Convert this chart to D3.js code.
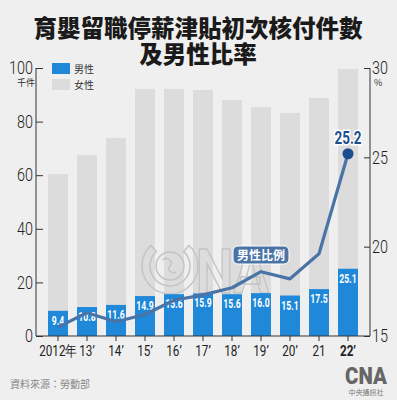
<!DOCTYPE html>
<html>
<head>
<meta charset="utf-8">
<script src="https://cdn.jsdelivr.net/npm/d3@7"></script>
<style>
  body { margin: 0; background: #efefef; }
  svg { display: block; }
  .num { font-family: Roboto, "Liberation Sans", sans-serif; }
  .cjk { font-family: "Noto Sans CJK TC", "Noto Sans", sans-serif; }
</style>
</head>
<body>
<svg id="chart" width="397" height="400"></svg>
<script>
// data (thousand cases, %)
const years = ["2012年", "13’", "14’", "15’", "16’", "17’", "18’", "19’", "20’", "21", "22’"];
const male = [9.4, 10.8, 11.6, 14.9, 15.6, 15.9, 15.6, 16.0, 15.1, 17.5, 25.1];
const female = [51.0, 56.7, 62.3, 77.3, 76.6, 75.9, 72.4, 69.4, 68.1, 71.3, 74.5];
const maleRatio = [15.5, 16.3, 15.8, 16.2, 17.0, 17.3, 17.7, 18.6, 18.2, 19.6, 25.2];
const leftTicks = [0, 20, 40, 60, 80, 100];
const rightTicks = [15, 20, 25, 30];

const blue = "#1f88d9", grey = "#dcdcdc", lineCol = "#4a74a6", dark = "#333";

// squeeze text horizontally (condensed look)
function condense(sel, k) {
  sel.each(function () {
    const t = d3.select(this);
    const x0 = +(t.attr("x") || 0);
    t.attr("x", x0 / k).attr("transform", `scale(${k},1)`);
  });
}

const svg = d3.select("#chart");
svg.append("rect").attr("width", 397).attr("height", 400).attr("fill", "#efefef");

// title
svg.append("text").attr("class", "cjk")
  .attr("x", 198).attr("y", 37).attr("text-anchor", "middle")
  .style("font-size", "23.5px").style("font-weight", 900).attr("fill", "#1a1a1a")
  .text("育嬰留職停薪津貼初次核付件數");
svg.append("text").attr("class", "cjk")
  .attr("x", 198).attr("y", 63).attr("text-anchor", "middle")
  .style("font-size", "23.5px").style("font-weight", 900).attr("fill", "#1a1a1a")
  .text("及男性比率");

const x = d3.scaleBand().domain(years).range([43.5, 362.5]).paddingInner(0.31).paddingOuter(0.155);
const y = d3.scaleLinear().domain([0, 100]).range([336, 68]);
const yr = d3.scaleLinear().domain([15, 30]).range([336, 68]);

// bars: total (grey) behind, male (blue) in front
const rows = years.map((d, i) => ({ year: d, male: male[i], female: female[i], ratio: maleRatio[i] }));
svg.append("g").selectAll("rect").data(rows).join("rect")
  .attr("x", d => x(d.year)).attr("width", x.bandwidth())
  .attr("y", d => y(d.male + d.female)).attr("height", d => y(0) - y(d.male + d.female))
  .attr("fill", grey);

// watermark
const wm = svg.append("g").attr("fill", "none").attr("stroke", "#c4c4c4").attr("stroke-width", 1.5);
wm.append("path").attr("transform", "translate(170,266)")
  .attr("d", d3.arc()({ innerRadius: 20, outerRadius: 28, startAngle: 0.75, endAngle: 2 * Math.PI - 0.75 }));
wm.append("circle").attr("cx", 170).attr("cy", 266).attr("r", 14);
wm.append("path").attr("transform", "translate(170,266)")
  .attr("d", "M-8,-6 C-2,-10 4,-4 0,0 C-4,4 2,8 6,6");
const wmText = wm.append("text").attr("x", 196).attr("y", 293).attr("class", "num")
  .style("font-size", "62px").style("font-weight", 700).text("NA");
condense(wmText, 0.85);

svg.append("g").selectAll("rect").data(rows).join("rect")
  .attr("x", d => x(d.year)).attr("width", x.bandwidth())
  .attr("y", d => y(d.male)).attr("height", d => y(0) - y(d.male))
  .attr("fill", blue);

const barLabels = svg.append("g").selectAll("text").data(rows).join("text")
  .attr("class", "num")
  .attr("x", d => x(d.year) + x.bandwidth() / 2).attr("y", d => y(d.male) + 14)
  .attr("text-anchor", "middle").attr("fill", "#fff")
  .style("font-size", "12px").style("font-weight", 700)
  .text(d => d.male.toFixed(1));
condense(barLabels, 0.72);

// ratio line
const line = d3.line().x(d => x(d.year) + x.bandwidth() / 2).y(d => yr(d.ratio));
svg.append("path").datum(rows).attr("d", line)
  .attr("fill", "none").attr("stroke", lineCol).attr("stroke-width", 3.2).attr("stroke-linejoin", "round");

const last = rows[rows.length - 1];
svg.append("circle").attr("cx", x(last.year) + x.bandwidth() / 2).attr("cy", yr(last.ratio))
  .attr("r", 5.5).attr("fill", "#1b4e8e");
const lastLabel = svg.append("text").attr("class", "num")
  .attr("x", x(last.year) + x.bandwidth() / 2).attr("y", yr(last.ratio) - 10)
  .attr("text-anchor", "middle").attr("fill", "#1b4e8e")
  .attr("stroke", "#fff").attr("stroke-width", 3).attr("paint-order", "stroke")
  .style("font-size", "18px").style("font-weight", 700)
  .text(last.ratio.toFixed(1));
condense(lastLabel, 0.75);

// "男性比例" tag
svg.append("rect").attr("x", 233).attr("y", 246).attr("width", 56).attr("height", 18)
  .attr("rx", 5).attr("fill", lineCol).attr("stroke", "#fff").attr("stroke-width", 1);
svg.append("text").attr("class", "cjk").attr("x", 261).attr("y", 259.5).attr("text-anchor", "middle")
  .attr("fill", "#fff").style("font-size", "12px").style("font-weight", 700).text("男性比例");

// axes
const axL = svg.append("g").attr("transform", "translate(36,0)")
  .call(d3.axisRight(y).tickValues(leftTicks).tickSize(7).tickFormat(d3.format("d")));
axL.select(".domain").attr("stroke", dark).attr("d", "M0,68V336");
axL.selectAll(".tick line").attr("stroke", dark);
axL.selectAll(".tick text").attr("class", "num").attr("x", -3).attr("text-anchor", "end")
  .style("font-size", "18px").style("font-weight", 300).attr("fill", "#222");
condense(axL.selectAll(".tick text"), 0.8);

const axR = svg.append("g").attr("transform", "translate(370,0)")
  .call(d3.axisLeft(yr).tickValues(rightTicks).tickSize(6).tickFormat(d3.format("d")));
axR.select(".domain").attr("stroke", dark).attr("d", "M0,68V336");
axR.selectAll(".tick line").attr("stroke", dark);
axR.selectAll(".tick text").attr("class", "num").attr("x", 2).attr("text-anchor", "start")
  .style("font-size", "18px").style("font-weight", 300).attr("fill", "#222");
condense(axR.selectAll(".tick text"), 0.8);

const axB = svg.append("g").attr("transform", "translate(0,336)")
  .call(d3.axisBottom(x).tickSize(5).tickPadding(4));
axB.select(".domain").attr("stroke", dark).attr("d", "M36,0H370");
axB.selectAll(".tick line").attr("stroke", dark);
axB.selectAll(".tick text").attr("class", "num").style("font-size", "15px").attr("fill", "#222")
  .style("font-weight", d => d === "22’" ? 700 : 400);
condense(axB.selectAll(".tick text"), 0.78);

svg.append("text").attr("class", "cjk").attr("x", 26).attr("y", 86).attr("text-anchor", "middle")
  .style("font-size", "9px").attr("fill", "#333").text("千件");
svg.append("text").attr("class", "cjk").attr("x", 374).attr("y", 86)
  .style("font-size", "9px").attr("fill", "#333").text("%");

// legend
const legend = [{ label: "男性", color: blue }, { label: "女性", color: grey }];
const lg = svg.append("g").selectAll("g").data(legend).join("g")
  .attr("transform", (d, i) => `translate(52,${63 + i * 16})`);
lg.append("rect").attr("width", 18).attr("height", 11).attr("fill", d => d.color);
lg.append("text").attr("class", "cjk").attr("x", 22).attr("y", 10)
  .style("font-size", "10px").attr("fill", "#333").text(d => d.label);

// source & logo
svg.append("text").attr("class", "cjk").attr("x", 10).attr("y", 388)
  .style("font-size", "10px").attr("fill", "#888").text("資料來源：勞動部");
const logo = svg.append("text").attr("class", "num").attr("x", 366).attr("y", 384).attr("text-anchor", "middle")
  .style("font-size", "24px").style("font-weight", 900).attr("fill", "#666").text("CNA");
condense(logo, 0.85);
svg.append("text").attr("class", "cjk").attr("x", 366).attr("y", 395).attr("text-anchor", "middle")
  .style("font-size", "7px").attr("fill", "#777").text("中央通訊社");
</script>
</body>
</html>
